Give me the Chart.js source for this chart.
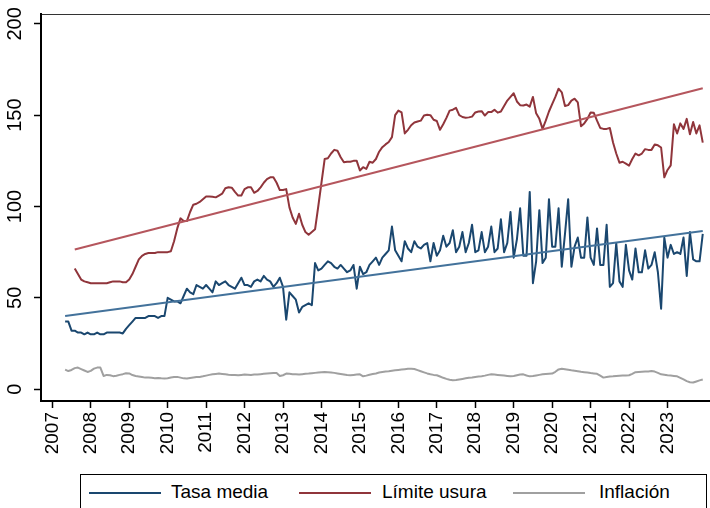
<!DOCTYPE html>
<html>
<head>
<meta charset="utf-8">
<script src="https://cdn.jsdelivr.net/npm/chart.js@4.4.1/dist/chart.umd.min.js"></script>
<style>
  body { margin: 0; background: #fff; overflow: hidden; width: 710px; height: 508px; position: relative; }
  #chart { position: absolute; left: 0; top: 0; }
  #legend { position: absolute; left: 80px; top: 474px; width: 625px; height: 40px; border: 1px solid #000;
            font-family: 'Liberation Sans Narrow', 'Liberation Sans', Arial, sans-serif; font-size: 19px; color: #000; }
  #legend .key { position: absolute; top: 17px; width: 72px; height: 2px; }
  #legend .txt { position: absolute; top: 6px; line-height: 22px; white-space: nowrap; }
</style>
</head>
<body>
<canvas id="chart" width="710" height="472"></canvas>
<div id="legend"></div>
<script>
// Serie mensual desde mayo 2007 hasta diciembre 2023
const startYear = 2007;
const startMonth = 5;
const yearTicks = [2007, 2008, 2009, 2010, 2011, 2012, 2013, 2014, 2015, 2016, 2017, 2018, 2019, 2020, 2021, 2022, 2023];
const yTicks = [0, 50, 100, 150, 200];
const seriesNames = ['Tasa media', 'Límite usura', 'Inflación'];

const tasaMedia = [
  37, 37, 32, 32, 31, 31, 30, 31,
  30, 30, 31, 30, 30, 31, 31, 31, 31, 31, 30.5, 33,
  35, 37, 39, 39, 39, 39, 40, 40, 40, 39, 40, 40,
  50, 49, 48, 48, 47, 51, 55, 53, 52, 57, 56, 55,
  57, 55, 53, 59, 57, 58, 59, 57, 56, 55, 58, 61,
  57, 57, 56, 59, 60, 59, 62, 60, 59, 56, 58, 61,
  56, 38, 53, 51, 49, 42, 45, 46, 47, 46, 69, 65,
  66, 68, 70, 69, 67, 66, 68, 66, 64, 65, 68, 55,
  67, 63, 64, 68, 70, 72, 68, 72, 74, 76, 89, 76,
  73, 70, 81, 77, 75, 81, 78, 77, 79, 80, 70, 80,
  73, 76, 84, 78, 80, 87, 75, 78, 86, 75, 80, 90,
  75, 76, 86, 75, 78, 89, 75, 77, 93, 75, 80, 97,
  72, 82, 99, 73, 73, 108, 58, 70, 98, 69, 72, 104,
  78, 78, 99, 67, 85, 104, 67, 78, 83, 72, 72, 94,
  72, 68, 88, 68, 68, 90, 56, 58, 80, 59, 56, 79,
  65, 60, 77, 64, 64, 76, 66, 68, 75, 64, 44, 83,
  72, 79, 74, 75, 74, 83, 62, 86, 71, 70, 70, 85
];

const limiteUsura = [
  null, null, null, 66, 63, 60, 59, 58.5,
  58, 58, 58, 58, 58, 58, 58.5, 59, 59, 59, 58.5, 58.5,
  60, 63, 67, 71, 73, 74, 74.5, 74.5, 74.5, 75, 75, 75,
  75, 75.5, 81, 88, 93.5, 92, 92, 97, 101, 101.5, 102.5, 104,
  105.5, 105.5, 105.3, 105, 106, 107, 110, 110.5, 110.3, 108, 106, 106,
  109.5, 110.5, 110.5, 107.5, 108.5, 110.5, 113, 115, 116, 116, 113, 109,
  109, 109.5, 99.5, 94, 90.5, 96, 90, 86, 84.5, 86, 87.5, 100,
  113, 126, 126.4, 129, 131, 130.5, 127, 124.2, 124.5, 124.5, 125, 125,
  119.7, 121.5, 120.6, 124.5, 124, 126, 130, 132.5, 134, 135.3, 138, 150,
  152.5, 151.5, 140, 142, 144.5, 146, 146.5, 147, 149.8, 150.2, 150, 147.5,
  146.8, 142, 145, 148.5, 152.5, 153, 154, 150, 149, 148.6, 148.8, 149.2,
  151.5, 152, 152.2, 149.8, 151.7, 151.7, 153, 151.4, 152, 155, 158, 160,
  162, 157.5, 155.5, 155.3, 155.8, 154.7, 160, 151, 148, 142.5, 147, 152,
  156, 160, 164.5, 162.5, 155, 155.5, 158, 159, 157, 144, 145.5, 148,
  151.5, 151.3, 147, 143, 142.5, 142.5, 143, 135, 129, 124, 124.5, 123.5,
  122.4, 126, 129, 128, 129, 131.4, 131, 131, 134, 133.5, 132.3, 116,
  120, 122.5, 145, 140, 145.5, 142.5, 148, 139.5, 146.3, 140, 144.4, 135
];

const inflacion = [
  10.7, 9.9, 10.5, 11.5, 11.8, 11, 10.2, 9.4,
  10, 11.2, 11.8, 11.8, 7.2, 7.8, 7.6, 7.1, 7.3, 7.8, 8.2, 8.7,
  8.6, 7.7, 7.2, 6.9, 6.6, 6.3, 6.4, 6.2, 6, 6.1, 5.9, 5.8,
  6, 6.4, 6.6, 6.7, 6.3, 5.9, 5.8, 6.1, 6.4, 6.6, 6.7, 7,
  7.4, 7.8, 8.1, 8.3, 8.5, 8.3, 8.1, 7.9, 7.8, 7.7, 7.6, 7.8,
  8, 7.9, 7.8, 8, 8, 8.2, 8.4, 8.6, 8.7, 8.8, 8.8, 7.2,
  7.6, 8.5, 8.4, 8.2, 8.1, 8, 8.2, 8.4, 8.5, 8.7, 8.9, 9.1,
  9.3, 9.4, 9.3, 9.1, 8.9, 8.6, 8.3, 8, 7.7, 7.6, 7.8, 8,
  8.1, 7, 7.4, 7.9, 8.3, 8.6, 9.1, 9.4, 9.6, 9.8, 10.1, 10.3,
  10.5, 10.7, 10.9, 11.1, 11.2, 11, 10.4, 9.8, 9.2, 8.6, 8.1, 7.8,
  7.6, 6.9, 6.2, 5.6, 5.1, 4.9, 5, 5.3, 5.6, 5.9, 6.2, 6.4,
  6.7, 6.9, 7.1, 7.4, 7.8, 8.1, 8, 7.8, 7.6, 7.4, 7.2, 7,
  7.2, 7.6, 8, 8.1, 7.5, 7, 7.2, 7.5, 7.8, 8.1, 8.3, 8.4,
  8.5, 9.5, 10.8, 11.2, 10.9, 10.6, 10.3, 10.1, 9.8, 9.5, 9.3, 9.1,
  8.8, 8.6, 8.4, 7.4, 6.3, 6.6, 6.9, 7, 7.2, 7.3, 7.4, 7.5,
  7.6, 8.4, 9.3, 9.4, 9.5, 9.6, 9.7, 9.9, 9.6, 8.9, 8.1, 7.9,
  7.6, 7.4, 7.2, 7, 6.2, 5.3, 4.4, 3.8, 3.6, 4.2, 4.8, 5.3
];

// Tendencias lineales (inicio y fin)
const tasaTrend = [40.1, 86.6];
const usuraTrend = [76.5, 164.7];

const colors = ['#1a476f', '#90353b', '#a0a0a0'];
const trendColors = ['#43729b', '#b5565d'];

function monthX(i) {
  return startYear + (startMonth - 1 + i) / 12;
}
function toPoints(values) {
  return values.map((v, i) => ({ x: monthX(i), y: v }));
}
function trendPoints(values, ends) {
  const first = values.findIndex(v => v !== null);
  return [{ x: monthX(first), y: ends[0] }, { x: monthX(values.length - 1), y: ends[1] }];
}

const fontFamily = "'Liberation Sans Narrow', 'Liberation Sans', Arial, sans-serif";
Chart.defaults.font.family = fontFamily;
Chart.defaults.color = '#000';

const ctx = document.getElementById('chart');
new Chart(ctx, {
  type: 'line',
  data: {
    datasets: [
      { label: seriesNames[2], data: toPoints(inflacion), borderColor: colors[2], borderWidth: 2 },
      { label: 'trend usura', data: trendPoints(limiteUsura, usuraTrend), borderColor: trendColors[1], borderWidth: 2 },
      { label: 'trend tasa', data: trendPoints(tasaMedia, tasaTrend), borderColor: trendColors[0], borderWidth: 2 },
      { label: seriesNames[1], data: toPoints(limiteUsura), borderColor: colors[1], borderWidth: 2 },
      { label: seriesNames[0], data: toPoints(tasaMedia), borderColor: colors[0], borderWidth: 2 }
    ]
  },
  options: {
    responsive: false,
    animation: false,
    devicePixelRatio: 1,
    layout: { padding: { top: 10, right: 0, left: 0, bottom: 0 } },
    elements: {
      point: { radius: 0 },
      line: { tension: 0, borderJoinStyle: 'round', fill: false }
    },
    plugins: {
      legend: { display: false },
      tooltip: { enabled: false }
    },
    scales: {
      x: {
        type: 'linear',
        min: 2006.706,
        max: 2024.105,
        afterBuildTicks: s => { s.ticks = yearTicks.map(v => ({ value: v })); },
        afterFit: s => { s.height = 71; },
        ticks: {
          autoSkip: false,
          minRotation: 90,
          maxRotation: 90,
          padding: 4,
          font: { size: 19 },
          callback: v => String(v)
        },
        grid: { drawOnChartArea: false, tickLength: 7, color: '#000', tickWidth: 1.5 },
        border: { color: '#000', width: 2 }
      },
      x2: {
        type: 'linear',
        position: 'top',
        afterFit: s => { s.height = 0; },
        ticks: { display: false },
        grid: { drawOnChartArea: false, drawTicks: false },
        border: { color: '#333', width: 1 }
      },
      y: {
        min: -6.5,
        max: 205.4,
        afterBuildTicks: s => { s.ticks = yTicks.map(v => ({ value: v })); },
        afterFit: s => { s.width = 41; },
        ticks: {
          minRotation: 90,
          maxRotation: 90,
          crossAlign: 'center',
          padding: 2,
          font: { size: 20 }
        },
        grid: { drawOnChartArea: false, tickLength: 7, color: '#000', tickWidth: 1.5 },
        border: { color: '#000', width: 2 }
      }
    }
  }
});

// Leyenda con recuadro, como en el original
const legend = document.getElementById('legend');
const keyLeft = [8, 218, 432];
const textLeft = [90, 301, 518];
const legendColors = [colors[0], colors[1], colors[2]];
seriesNames.forEach((name, i) => {
  const key = document.createElement('div');
  key.className = 'key';
  key.style.left = keyLeft[i] + 'px';
  key.style.background = legendColors[i];
  legend.appendChild(key);
  const txt = document.createElement('div');
  txt.className = 'txt';
  txt.style.left = textLeft[i] + 'px';
  txt.textContent = name;
  legend.appendChild(txt);
});
</script>
</body>
</html>
